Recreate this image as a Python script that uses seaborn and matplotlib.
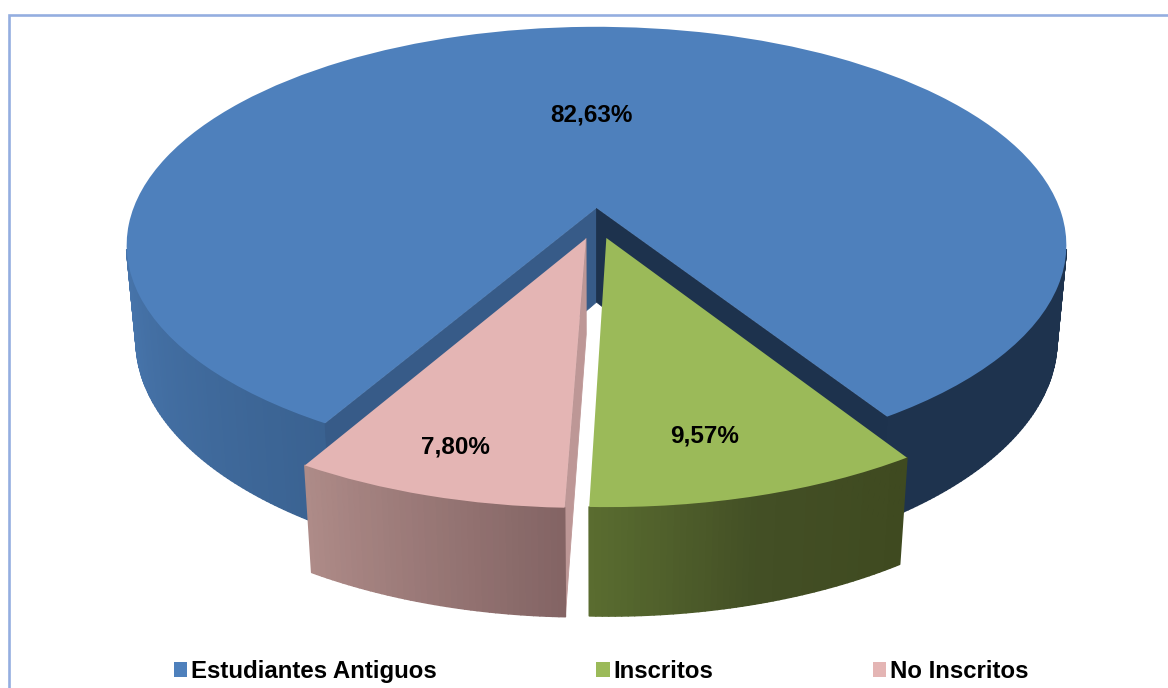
import numpy as np
import seaborn as sns
import matplotlib
matplotlib.use('Agg')
import matplotlib.pyplot as plt
from matplotlib.colors import to_rgb
from matplotlib.transforms import Transform

categorias = ['Estudiantes Antiguos', 'Inscritos', 'No Inscritos']
porcentajes = [82.63, 9.57, 7.80]
separacion = [0, 0.143, 0.146]
colores = ['#4e80bc', '#9bba59', '#e4b5b4']

# posicion de las etiquetas en pixeles de la imagen
pos_etiquetas = [(591, 115), (705, 436), (455, 447)]

# parametros de la perspectiva del pastel 3D
CX, CY = 596.5, 208
RX, RY = 463, 212
K, M, ALTO = 0.17, 0.02, 96


def proyectar(u, v, z=0.0):
    w = 1 + K * v + M * z
    return CX + RX * u / w, CY + (-RY * v + ALTO * z) / w


class Perspectiva(Transform):
    input_dims = 2
    output_dims = 2

    def transform_non_affine(self, values):
        x, y = proyectar(values[:, 0], values[:, 1])
        return np.column_stack([x, y])


def cara(ax, p1, p2, color, zorder, grosor=0.6):
    # cuadrilatero vertical entre dos puntos de la tapa
    xa, ya = proyectar(*p1)
    xb, yb = proyectar(*p2)
    xc, yc = proyectar(*p2, 1.0)
    xd, yd = proyectar(*p1, 1.0)
    ax.fill([xa, xb, xc, xd], [ya, yb, yc, yd], color=color, lw=grosor, zorder=zorder,
            joinstyle='round')


def pared(ax, cuna, a1, a2, angulos, tonos, zorder):
    # pared exterior en tiras finas, con el degradado segun el angulo
    tonos = np.array([to_rgb(t) for t in tonos])
    malla = np.linspace(a1, a2, int((a2 - a1) * 1.5) + 2)
    cx, cy = cuna.center
    for a, b in zip(malla[:-1], malla[1:]):
        p1 = (cx + np.cos(np.radians(a)), cy + np.sin(np.radians(a)))
        p2 = (cx + np.cos(np.radians(b)), cy + np.sin(np.radians(b)))
        medio = (a + b) / 2
        color = [np.interp(medio, angulos, tonos[:, i]) for i in range(3)]
        cara(ax, p1, p2, color, zorder, grosor=1.2)


sns.set_theme(style='white')
plt.rcParams['font.family'] = ['Liberation Sans', 'DejaVu Sans']

fig, ax = plt.subplots(figsize=(11.68, 6.88), dpi=100)
fig.subplots_adjust(0, 0, 1, 1)

cunas, _ = ax.pie(porcentajes, explode=separacion, colors=sns.color_palette(colores),
                  startangle=240, counterclock=False)
ax.set_aspect('auto')
ax.set_xlim(0, 1168)
ax.set_ylim(688, 0)

persp = Perspectiva()
for c in cunas[1:]:
    # la separacion real es mas vertical que radial
    c.set_center((c.center[0] * 0.55, c.center[1]))
for c, z in zip(cunas, [3, 6, 6]):
    c.set_transform(persp + ax.transData)
    c.set_linewidth(0)
    c.set_zorder(z)

azul, verde, rosa = cunas

# paredes del sector azul: solo la parte que se ve de frente
pared(ax, azul, azul.theta1, -11, [azul.theta1, -11], ['#1e334e', '#1e334e'], 1)
pared(ax, azul, 191, azul.theta2, [191, azul.theta2], ['#4876ad', '#3a6291'], 1)
a_der = np.radians(azul.theta1)
a_izq = np.radians(azul.theta2)
cara(ax, (0, 0), (np.cos(a_izq), np.sin(a_izq)), '#375b88', 2)
cara(ax, (0, 0), (np.cos(a_der), np.sin(a_der)), '#1d324d', 2)

# sector rosa: cara interior y pared
cx, cy = rosa.center
a_int = np.radians(rosa.theta2)
cara(ax, (cx, cy), (cx + np.cos(a_int), cy + np.sin(a_int)), '#bd9796', 4)
pared(ax, rosa, rosa.theta1, rosa.theta2, [rosa.theta1, rosa.theta2], ['#ae8b88', '#836464'], 5)

# sector verde: pared
pared(ax, verde, verde.theta1, verde.theta2,
      [verde.theta1, (verde.theta1 + verde.theta2) / 2, verde.theta2],
      ['#5a6d30', '#434f25', '#3f4a20'], 5)

for valor, (x, y) in zip(porcentajes, pos_etiquetas):
    ax.text(x, y, f'{valor:.2f}%'.replace('.', ','), ha='center', va='center',
            fontsize=17.5, fontweight='bold', color='black', zorder=8)

# marco del grafico, solo arriba e izquierda quedan dentro de la imagen
ax.plot([9.3, 9.3, 1168], [688, 14.7, 14.7], color='#94aee0', lw=1.9, zorder=0,
        solid_joinstyle='miter')

ley = ax.legend(cunas, categorias, ncol=3, frameon=False, loc='lower left',
                bbox_to_anchor=(174 / 1168, 5 / 688), borderpad=0, borderaxespad=0,
                handlelength=0.55, handleheight=0.55, handletextpad=0.17, columnspacing=6.63,
                labelcolor='black', prop={'size': 17.3, 'weight': 'bold'})

fig.savefig('out.png', dpi=100)
